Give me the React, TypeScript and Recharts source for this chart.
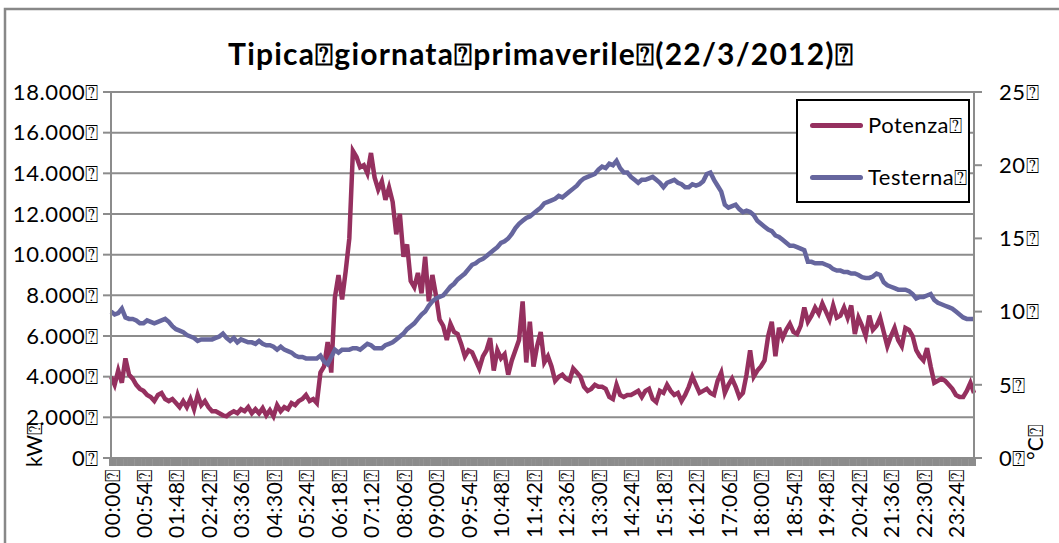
import React from "react";
import {
  LineChart,
  Line,
  XAxis,
  YAxis,
  CartesianGrid,
  Legend,
} from "recharts";

// placeholder glyph shown by the original file wherever a space/unit char went missing
const BOX = "\u2370";

// one sample every 6 minutes, 00:00 .. 23:54
const TIMES: string[] = Array.from({ length: 240 }, (_, i) => {
  const m = i * 6;
  return `${String(Math.floor(m / 60)).padStart(2, "0")}:${String(m % 60).padStart(2, "0")}`;
});

// Potenza (kW)
const POTENZA: number[] = [
  4000, 3600, 4300, 3700, 4900, 4100, 3900, 3600, 3400, 3300,
  3100, 3000, 2800, 3100, 3200, 2900, 2800, 2900, 2700, 2500,
  2800, 2500, 2900, 2400, 3100, 2600, 2800, 2500, 2300, 2300,
  2200, 2100, 2050, 2200, 2300, 2200, 2400, 2300, 2500, 2200,
  2400, 2200, 2450, 2100, 2350, 2050, 2600, 2300, 2500, 2400,
  2700, 2600, 2800, 2900, 3100, 2800, 2900, 2700, 4200, 4500,
  5700, 4200, 7900, 9000, 7800, 9200, 10800, 15100, 14800, 14300,
  14400, 14000, 15000, 13800, 13200, 13600, 12700, 13300, 12600, 11000,
  12000, 9900, 10500, 8700, 8400, 9100, 8100, 9900, 7700, 9000,
  8000, 6800, 6500, 5800, 6600, 6200, 6100, 5600, 5000, 5300,
  5200, 4800, 4400, 5000, 5300, 5900, 4300, 5300, 4900, 5100,
  4100, 4800, 5300, 5800, 7700, 4700, 6700, 4500, 5500, 6200,
  4700, 5000, 4500, 3800, 4000, 4100, 3900, 3800, 4400, 4200,
  4000, 3500, 3300, 3400, 3600, 3500, 3500, 3400, 3000, 2900,
  3600, 3100, 3000, 3100, 3100, 3200, 3300, 3000, 3300, 3400,
  2900, 2750, 3300, 3200, 3600, 3300, 3100, 3200, 2800, 3100,
  3500, 4000, 3600, 3200, 3300, 3400, 3200, 3100, 3800, 4200,
  3200, 3600, 3900, 3500, 3000, 3200, 4100, 5300, 4000, 4300,
  4500, 4800, 6000, 6700, 5000, 6400, 5900, 6300, 6600, 6200,
  6100, 6500, 7400, 6700, 7000, 7400, 7100, 7600, 7200, 6800,
  7500, 6900, 7000, 7400, 6900, 7500, 6100, 6900, 6500, 6000,
  7000, 6300, 6500, 6900, 6200, 5500, 6000, 6400, 5800, 5500,
  6400, 6300, 6000, 5300, 5000, 4800, 5400, 4500, 3700, 3800,
  3900, 3800, 3600, 3400, 3100, 3000, 3000, 3300, 3700, 3200,
];

// Testerna (°C)
const TESTERNA: number[] = [
  10.0, 9.8, 9.9, 10.2, 9.6, 9.5, 9.5, 9.4, 9.2, 9.2,
  9.4, 9.3, 9.2, 9.3, 9.4, 9.5, 9.3, 9.0, 8.8, 8.7,
  8.6, 8.4, 8.3, 8.2, 8.0, 8.1, 8.1, 8.1, 8.1, 8.2,
  8.3, 8.5, 8.2, 8.0, 8.2, 7.9, 8.1, 8.0, 7.9, 7.9,
  7.8, 8.0, 7.8, 7.7, 7.7, 7.6, 7.4, 7.6, 7.4, 7.3,
  7.2, 7.0, 6.9, 6.9, 6.8, 6.8, 6.8, 6.8, 7.0, 6.6,
  6.4, 6.9, 7.4, 7.2, 7.4, 7.4, 7.4, 7.5, 7.5, 7.4,
  7.6, 7.8, 7.7, 7.5, 7.5, 7.5, 7.7, 7.8, 7.9, 8.1,
  8.3, 8.5, 8.8, 9.0, 9.2, 9.5, 9.8, 10.0, 10.4, 10.7,
  10.9, 11.0, 11.1, 11.4, 11.7, 11.9, 12.2, 12.4, 12.6, 12.9,
  13.2, 13.3, 13.5, 13.6, 13.8, 14.0, 14.2, 14.4, 14.7, 14.8,
  15.0, 15.3, 15.7, 16.0, 16.2, 16.4, 16.5, 16.7, 16.9, 17.1,
  17.4, 17.5, 17.6, 17.7, 17.9, 17.8, 18.0, 18.2, 18.4, 18.6,
  18.9, 19.1, 19.2, 19.3, 19.4, 19.7, 19.9, 19.8, 20.1, 20.0,
  20.3, 19.8, 19.5, 19.5, 19.2, 19.0, 18.8, 19.0, 19.0, 19.1,
  19.2, 19.0, 18.8, 18.5, 18.8, 18.9, 19.0, 18.8, 18.7, 18.5,
  18.5, 18.7, 18.6, 18.7, 18.9, 19.4, 19.5, 19.0, 18.6, 18.2,
  17.3, 17.1, 17.2, 17.3, 17.0, 16.8, 16.9, 16.8, 16.6, 16.2,
  16.0, 15.8, 15.6, 15.5, 15.2, 15.1, 14.9, 14.7, 14.5, 14.5,
  14.4, 14.3, 14.2, 13.4, 13.4, 13.3, 13.3, 13.3, 13.2, 13.1,
  12.9, 12.8, 12.8, 12.7, 12.7, 12.6, 12.6, 12.5, 12.35, 12.3,
  12.3, 12.4, 12.6, 12.5, 12.0, 11.8, 11.7, 11.6, 11.5, 11.5,
  11.5, 11.4, 11.2, 10.9, 11.0, 11.0, 11.1, 11.2, 10.8, 10.6,
  10.5, 10.4, 10.3, 10.2, 10.0, 9.8, 9.6, 9.5, 9.5, 9.5,
];

const KW_TICKS = [0, 2000, 4000, 6000, 8000, 10000, 12000, 14000, 16000, 18000];
const TEMP_TICKS = [0, 5, 10, 15, 20, 25];

const data = TIMES.map((time, i) => ({
  time,
  potenza: POTENZA[i],
  testerna: TESTERNA[i],
}));

const FONT = "Lato, 'Open Sans', sans-serif";
const GRID = "#8c8c8c";
const PURPLE = "#95305f";
const BLUE = "#66669e";
const LABEL = { fontSize: 22, fill: "#000", fontFamily: FONT, letterSpacing: 0.6 };

const fmtKw = (v: number) =>
  String(v).replace(/\B(?=(\d{3})+(?!\d))/g, ".") + BOX;

const TimeTick = (props: any) => {
  const { x, y, payload } = props;
  const idx = TIMES.indexOf(payload.value);
  if (idx % 9 !== 0) return <g />;
  return (
    <text
      x={x}
      y={y}
      transform={`rotate(-90 ${x} ${y})`}
      textAnchor="end"
      dominantBaseline="central"
      fontSize={21}
      letterSpacing={0.5}
      fontFamily={FONT}
      fill="#000"
    >
      {payload.value + BOX}
    </text>
  );
};

const LegendBox = () => {
  const items = [
    { name: "Potenza", color: PURPLE, top: 24 },
    { name: "Testerna", color: BLUE, top: 76 },
  ];
  return (
    <div
      style={{
        width: 174,
        height: 104,
        border: "2px solid #000",
        background: "#fff",
        boxSizing: "border-box",
        position: "relative",
        fontFamily: FONT,
      }}
    >
      {items.map((it) => (
        <React.Fragment key={it.name}>
          <div
            style={{
              position: "absolute",
              left: 12,
              top: it.top - 2,
              width: 53,
              height: 5,
              borderRadius: 2.5,
              background: it.color,
            }}
          />
          <div
            style={{
              position: "absolute",
              left: 70,
              top: it.top - 14,
              fontSize: 22,
              letterSpacing: 0.5,
              lineHeight: "28px",
              color: "#000",
              whiteSpace: "nowrap",
            }}
          >
            {it.name + BOX}
          </div>
        </React.Fragment>
      ))}
    </div>
  );
};

export default function App() {
  return (
    <div
      style={{
        position: "absolute",
        left: 0,
        top: 0,
        width: 1059,
        height: 543,
        overflow: "hidden",
        background: "#fff",
      }}
    >
      <LineChart
        width={1059}
        height={543}
        data={data}
        margin={{ top: 92, right: 0, bottom: 0, left: 0 }}
      >
        <CartesianGrid
          vertical={false}
          stroke={GRID}
          strokeWidth={2}
          yAxisId="kw"
        />
        <XAxis
          dataKey="time"
          interval={0}
          height={85}
          tick={<TimeTick />}
          tickSize={8}
          tickLine={{ stroke: GRID, strokeWidth: 4 }}
          axisLine={{ stroke: GRID, strokeWidth: 2 }}
        />
        <YAxis
          yAxisId="kw"
          width={111}
          domain={[0, 18000]}
          ticks={KW_TICKS}
          interval={0}
          tickFormatter={fmtKw}
          tick={LABEL}
          tickSize={8}
          tickMargin={4}
          tickLine={{ stroke: GRID, strokeWidth: 2 }}
          axisLine={{ stroke: GRID, strokeWidth: 2 }}
        />
        <YAxis
          yAxisId="temp"
          orientation="right"
          width={85}
          domain={[0, 25]}
          ticks={TEMP_TICKS}
          interval={0}
          tickFormatter={(v: number) => String(v) + BOX}
          tick={LABEL}
          tickSize={8}
          tickMargin={17}
          tickLine={{ stroke: GRID, strokeWidth: 2 }}
          axisLine={{ stroke: GRID, strokeWidth: 2 }}
        />
        <Legend
          layout="vertical"
          align="center"
          verticalAlign="middle"
          content={<LegendBox />}
          wrapperStyle={{ left: 796, top: 99, width: 174, height: 104 }}
        />
        <Line
          yAxisId="kw"
          type="linear"
          dataKey="potenza"
          name="Potenza"
          stroke={PURPLE}
          strokeWidth={4.5}
          dot={false}
          isAnimationActive={false}
        />
        <Line
          yAxisId="temp"
          type="linear"
          dataKey="testerna"
          name="Testerna"
          stroke={BLUE}
          strokeWidth={4.5}
          dot={false}
          isAnimationActive={false}
        />
      </LineChart>
      <svg
        width={1059}
        height={543}
        style={{ position: "absolute", left: 0, top: 0, pointerEvents: "none" }}
      >
        <polyline
          points="5,545 5,9 1061,9"
          fill="none"
          stroke="#888"
          strokeWidth={2.5}
        />
        <text
          x={541}
          y={65}
          textAnchor="middle"
          fontSize={30}
          fontWeight="bold"
          letterSpacing={1.2}
          fontFamily={FONT}
          fill="#000"
        >
          {`Tipica${BOX}giornata${BOX}primaverile${BOX}(22/3/2012)${BOX}`}
        </text>
        <text
          x={42}
          y={467}
          transform="rotate(-90 42 467)"
          fontSize={21}
          fontFamily={FONT}
          fill="#000"
        >
          {`kW${BOX}`}
        </text>
        <text
          x={1043}
          y={460}
          transform="rotate(-90 1043 460)"
          fontSize={21}
          fontFamily={FONT}
          fill="#000"
        >
          {`°C${BOX}`}
        </text>
      </svg>
    </div>
  );
}
